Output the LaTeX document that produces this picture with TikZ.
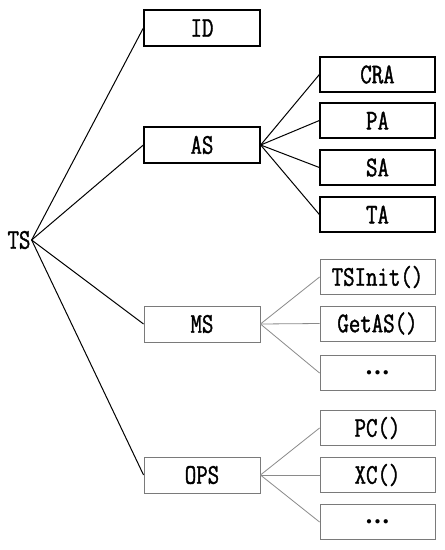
\documentclass[tikz,border=0pt]{standalone}
\usepackage{fontspec}
\setmainfont{Latin Modern Mono}[FakeStretch=0.78, FakeBold=1.3]
\usepackage{xcolor}
\definecolor{lineGray}{HTML}{8A8A8A}
\definecolor{boxGray} {HTML}{7A7A7A}
\usetikzlibrary{positioning, calc}
\newcommand{\moredots}{{\fontsize{11}{11}\selectfont$\bullet$\hspace{3pt}$\bullet$\hspace{3pt}$\bullet$}}

\begin{document}
\begin{tikzpicture}[
    x=1pt, y=-1pt,
    every node/.style={font=\fontsize{28.5}{30}\selectfont},
    blk/.style={draw, line width=1.3pt, minimum width=116pt, minimum height=36pt, inner sep=0pt},
    gry/.style={draw=boxGray, line width=0.9pt, minimum width=116pt, minimum height=36pt, inner sep=0pt},
    sblk/.style={blk, minimum width=115pt, minimum height=35pt},
    sgry/.style={gry, minimum width=115pt, minimum height=35pt},
    bl/.style={line width=1pt},
    gl/.style={draw=lineGray, line width=0.8pt}
]
\useasboundingbox (0,0) rectangle (445,550);
\fill[white] (0,0) rectangle (445,550);
% Root
\node[inner sep=1pt] (ts) at (19,240) {TS};
% Level 1
\node[blk] (id)  at (202,28)  {ID};
\node[blk] (as)  at (202,145) {AS};
\node[gry] (ms)  at (202,324) {MS};
\node[gry] (ops) at (202,475) {OPS};
% Level 2 under AS
\node[sblk] (cra) at (377.5,74.5)  {CRA};
\node[sblk] (pa)  at (377.5,120.5) {PA};
\node[sblk] (sa)  at (377.5,167.5) {SA};
\node[sblk] (ta)  at (377.5,214.5) {TA};
% Level 2 under MS
\node[sgry] (tsinit) at (377.5,277)   {TSInit()};
\node[sgry] (getas)  at (377.5,323.5) {GetAS()};
\node[sgry] (msdots) at (377.5,373)   {\moredots};
% Level 2 under OPS
\node[sgry] (pc)      at (377.5,428) {PC()};
\node[sgry] (xc)      at (377.5,475) {XC()};
\node[sgry] (opsdots) at (377.5,522) {\moredots};
% Edges
\foreach \c in {id, as, ms, ops}
  \draw[bl] (ts.east) -- (\c.west);
\foreach \c in {cra, pa, sa, ta}
  \draw[bl] (as.east) -- (\c.west);
\foreach \c in {tsinit, getas, msdots}
  \draw[gl] (ms.east) -- (\c.west);
\foreach \c in {pc, xc, opsdots}
  \draw[gl] (ops.east) -- (\c.west);
\end{tikzpicture}
\end{document}
